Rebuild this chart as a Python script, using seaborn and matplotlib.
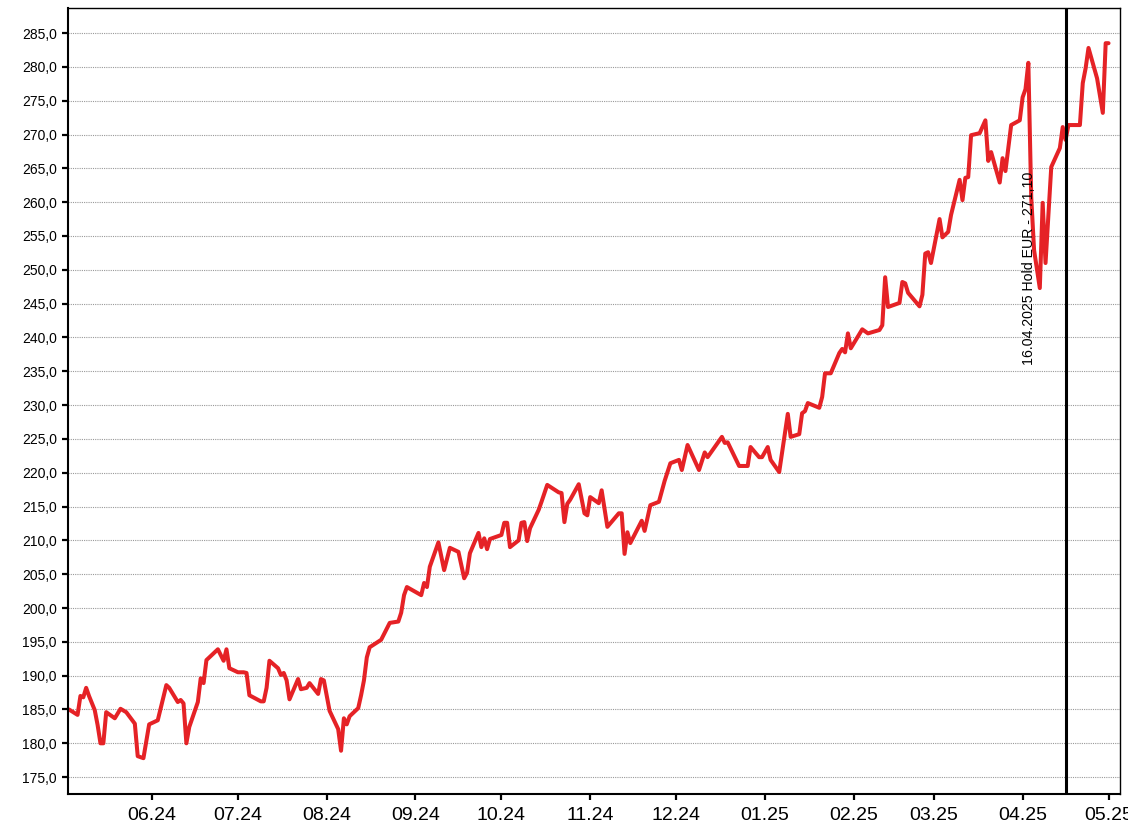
import matplotlib
matplotlib.use('Agg')
import matplotlib.pyplot as plt
import matplotlib.dates as mdates
from matplotlib.ticker import FuncFormatter, MultipleLocator
import pandas as pd
import seaborn as sns

# price history (EUR)
dates = [
    '2024-05-03', '2024-05-06', '2024-05-07', '2024-05-08', '2024-05-09', '2024-05-10', '2024-05-12',
    '2024-05-13', '2024-05-14', '2024-05-15', '2024-05-16', '2024-05-19', '2024-05-21', '2024-05-23',
    '2024-05-26', '2024-05-27', '2024-05-29', '2024-05-31', '2024-06-03', '2024-06-06', '2024-06-07',
    '2024-06-10', '2024-06-11', '2024-06-12', '2024-06-13', '2024-06-14', '2024-06-17', '2024-06-18',
    '2024-06-19', '2024-06-20', '2024-06-24', '2024-06-26', '2024-06-27', '2024-06-28', '2024-07-01',
    '2024-07-03', '2024-07-04', '2024-07-05', '2024-07-09', '2024-07-10', '2024-07-11', '2024-07-12',
    '2024-07-15', '2024-07-16', '2024-07-17', '2024-07-18', '2024-07-19', '2024-07-22', '2024-07-23',
    '2024-07-25', '2024-07-26', '2024-07-29', '2024-07-30', '2024-07-31', '2024-08-02', '2024-08-05',
    '2024-08-06', '2024-08-07', '2024-08-08', '2024-08-09', '2024-08-12', '2024-08-13', '2024-08-14',
    '2024-08-15', '2024-08-16', '2024-08-20', '2024-08-23', '2024-08-26', '2024-08-27', '2024-08-28',
    '2024-08-29', '2024-09-03', '2024-09-04', '2024-09-05', '2024-09-06', '2024-09-09', '2024-09-11',
    '2024-09-13', '2024-09-16', '2024-09-18', '2024-09-19', '2024-09-20', '2024-09-23', '2024-09-24',
    '2024-09-25', '2024-09-26', '2024-09-27', '2024-10-01', '2024-10-02', '2024-10-03', '2024-10-04',
    '2024-10-07', '2024-10-08', '2024-10-09', '2024-10-10', '2024-10-11', '2024-10-14', '2024-10-15',
    '2024-10-17', '2024-10-21', '2024-10-22', '2024-10-23', '2024-10-24', '2024-10-25', '2024-10-28',
    '2024-10-30', '2024-10-31', '2024-11-01', '2024-11-04', '2024-11-05', '2024-11-07', '2024-11-11',
    '2024-11-12', '2024-11-13', '2024-11-14', '2024-11-15', '2024-11-19', '2024-11-20', '2024-11-22',
    '2024-11-25', '2024-11-27', '2024-11-29', '2024-12-02', '2024-12-03', '2024-12-05', '2024-12-09',
    '2024-12-11', '2024-12-12', '2024-12-17', '2024-12-18', '2024-12-19', '2024-12-23', '2024-12-26',
    '2024-12-27', '2024-12-30', '2024-12-31', '2025-01-02', '2025-01-03', '2025-01-06', '2025-01-09',
    '2025-01-10', '2025-01-13', '2025-01-14', '2025-01-15', '2025-01-16', '2025-01-20', '2025-01-21',
    '2025-01-22', '2025-01-24', '2025-01-27', '2025-01-28', '2025-01-29', '2025-01-30', '2025-01-31',
    '2025-02-04', '2025-02-06', '2025-02-10', '2025-02-11', '2025-02-12', '2025-02-13', '2025-02-17',
    '2025-02-18', '2025-02-19', '2025-02-20', '2025-02-24', '2025-02-25', '2025-02-26', '2025-02-27',
    '2025-02-28', '2025-03-03', '2025-03-04', '2025-03-06', '2025-03-07', '2025-03-10', '2025-03-11',
    '2025-03-12', '2025-03-13', '2025-03-14', '2025-03-17', '2025-03-19', '2025-03-20', '2025-03-21',
    '2025-03-24', '2025-03-25', '2025-03-26', '2025-03-28', '2025-03-31', '2025-04-01', '2025-04-02',
    '2025-04-03', '2025-04-04', '2025-04-05', '2025-04-07', '2025-04-08', '2025-04-09', '2025-04-11',
    '2025-04-14', '2025-04-15', '2025-04-16', '2025-04-17', '2025-04-21', '2025-04-22', '2025-04-23',
    '2025-04-24', '2025-04-27', '2025-04-29', '2025-04-30', '2025-05-01',
]
prices = [
    185.0, 184.2, 187.0, 186.8, 188.2, 187.0, 184.9,
    182.7, 180.0, 180.0, 184.6, 183.7, 185.1, 184.6,
    182.9, 178.1, 177.8, 182.8, 183.4, 188.6, 188.2,
    186.1, 186.4, 185.9, 180.0, 182.4, 186.1, 189.6,
    188.9, 192.3, 193.9, 192.2, 193.9, 191.1, 190.5,
    190.5, 190.4, 187.1, 186.2, 186.2, 188.2, 192.2,
    191.1, 190.1, 190.4, 189.3, 186.5, 189.5, 188.0,
    188.2, 188.9, 187.3, 189.5, 189.3, 184.8, 182.1,
    178.9, 183.7, 182.8, 184.0, 185.2, 187.1, 189.3,
    192.7, 194.2, 195.3, 197.8, 198.0, 199.3, 201.9,
    203.1, 201.9, 203.7, 203.1, 206.1, 209.7, 205.6,
    208.9, 208.3, 204.4, 205.2, 208.1, 211.1, 209.0,
    210.3, 208.7, 210.2, 210.8, 212.6, 212.6, 209.0,
    210.0, 212.6, 212.7, 209.9, 211.8, 214.5, 215.7,
    218.2, 217.1, 217.0, 212.7, 215.4, 216.0, 218.3,
    214.0, 213.7, 216.4, 215.5, 217.4, 212.0, 214.0,
    214.0, 208.0, 211.2, 209.6, 212.9, 211.4, 215.2,
    215.7, 218.8, 221.4, 221.9, 220.4, 224.1, 220.4,
    223.0, 222.3, 225.3, 224.4, 224.5, 221.0, 221.0,
    223.8, 222.3, 222.3, 223.8, 221.9, 220.1, 228.7,
    225.3, 225.7, 228.8, 229.1, 230.3, 229.6, 231.2,
    234.7, 234.7, 237.7, 238.3, 237.8, 240.6, 238.4,
    241.2, 240.6, 241.1, 241.8, 248.9, 244.5, 245.1,
    248.2, 248.0, 246.6, 244.6, 246.3, 252.4, 252.6,
    251.0, 257.5, 254.8, 255.6, 258.1, 263.3, 260.3,
    263.6, 263.7, 269.9, 270.2, 272.1, 266.1, 267.4,
    262.9, 266.5, 264.6, 271.4, 272.1, 275.5, 276.7,
    280.6, 260.8, 252.9, 247.3, 259.9, 251.0, 265.2,
    268.0, 271.1, 269.2, 271.4, 271.4, 277.6, 279.8,
    282.8, 278.3, 273.2, 283.5, 283.5,
]

signal_date = '2025-04-16'
signal_label = '16.04.2025 Hold EUR - 271,10'

df = pd.DataFrame({'date': pd.to_datetime(dates), 'price': prices})

sns.set_style('white')
plt.rcParams['font.family'] = ['Liberation Sans', 'DejaVu Sans']

fig = plt.figure(figsize=(11.28, 8.36), dpi=100)
ax = fig.add_axes([0.0603, 0.0502, 0.9326, 0.9402])

ax.yaxis.grid(True, color='#999999', linestyle=(0, (1, 1)), linewidth=0.8)
ax.set_axisbelow(True)

sns.lineplot(data=df, x='date', y='price', ax=ax, color='#e52226', linewidth=2.9)

ax.axvline(pd.Timestamp(signal_date), color='black', linewidth=2.2)
ax.annotate(signal_label, xy=(pd.Timestamp(signal_date), 235.9), xytext=(-26, 0),
            textcoords='offset points', rotation=90, ha='center', va='bottom',
            fontsize=10.2, color='black')

ax.set_xlim(pd.Timestamp('2024-05-02 16:00'), pd.Timestamp('2025-05-05 00:00'))
ax.set_ylim(172.5, 288.7)

ax.yaxis.set_major_locator(MultipleLocator(5))
ax.yaxis.set_major_formatter(FuncFormatter(lambda v, p: f'{v:.1f}'.replace('.', ',')))
ax.xaxis.set_major_locator(mdates.MonthLocator())
ax.xaxis.set_major_formatter(mdates.DateFormatter('%m.%y'))

ax.tick_params(axis='y', labelsize=10, length=4, width=1.6, direction='out', pad=4,
               left=True, colors='black')
ax.tick_params(axis='x', labelsize=14, length=4, width=1.6, direction='out', pad=5,
               bottom=True, colors='black')

for side in ['left', 'bottom']:
    ax.spines[side].set_linewidth(1.5)
for side in ['top', 'right']:
    ax.spines[side].set_linewidth(1.0)
for s in ax.spines.values():
    s.set_color('black')

ax.set_xlabel('')
ax.set_ylabel('')

fig.savefig('out.png', dpi=100)
